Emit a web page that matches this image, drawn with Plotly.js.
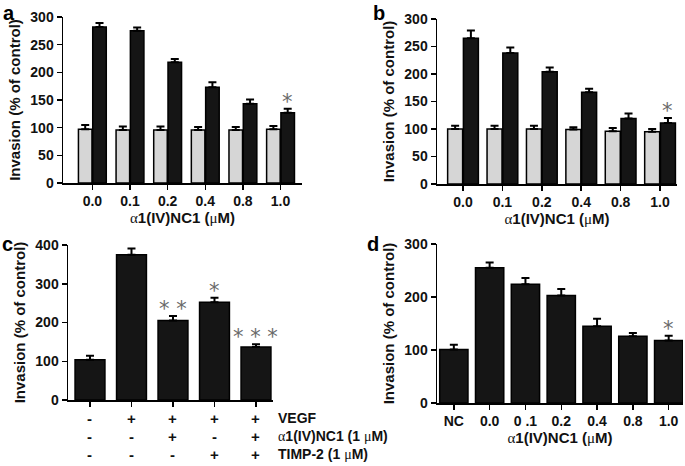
<!DOCTYPE html>
<html>
<head>
<meta charset="utf-8">
<script src="https://cdn.plot.ly/plotly-3.0.1.min.js"></script>
<style>html,body{margin:0;padding:0;background:#fff;}#chart{width:685px;height:466px;}</style>
</head>
<body>
<div id="chart"></div>
<script>
// ---- data ----
const catsAB = ['0.0','0.1','0.2','0.4','0.8','1.0'];
const aCtrl = [97, 96, 96, 96, 96, 97];
const aCtrlErr = [8, 6, 6, 5, 5, 6];
const aVegf = [282, 275, 218, 173, 143, 127];
const aVegfErr = [7, 6, 6, 9, 8, 7];
const bCtrl = [100, 100, 100, 99, 96, 95];
const bCtrlErr = [6, 6, 6, 4, 6, 5];
const bVegf = [265, 238, 204, 167, 119, 111];
const bVegfErr = [14, 10, 8, 6, 9, 9];
const cVals = [104, 375, 205, 252, 137];
const cErr = [10, 16, 12, 12, 7];
const cVegf = ['-', '+', '+', '+', '+'];
const cNc1 = ['-', '-', '+', '-', '+'];
const cTimp = ['-', '-', '-', '+', '+'];
const cRowLabels = ['VEGF', 'α1(IV)NC1 (1 μM)', 'TIMP-2 (1 μM)'];
const cStars = ['', '', '* *', '*', '* * *'];
const dCats = ['NC', '0.0', '0 .1', '0.2', '0.4', '0.8', '1.0'];
const dVals = [101, 255, 224, 203, 145, 126, 118];
const dErr = [9, 10, 12, 12, 14, 6, 9];
const abStars = ['', '', '', '', '', '*'];
const dStars = ['', '', '', '', '', '', '*'];

// ---- styles ----
const FONT = 'Liberation Sans, Arial, Helvetica, sans-serif';
const GRAY = '#d6d6d6';
const BLACK = '#151515';
const idx = n => Array.from({length: n}, (_, i) => i);
const zeros = n => new Array(n).fill(0);

function err(arr) {
  return {type: 'data', symmetric: false, array: arr, arrayminus: zeros(arr.length),
          color: '#000', thickness: 2, width: 4};
}
function pairTraces(ctrl, ctrlE, vegf, vegfE, xa, ya, w, g) {
  const x = idx(ctrl.length);
  return [
    {type: 'bar', x: x, y: ctrl, xaxis: xa, yaxis: ya, width: w, offset: -w - g/2,
     marker: {color: GRAY, line: {color: '#000', width: 1.5}}, error_y: err(ctrlE),
     hoverinfo: 'skip', showlegend: false},
    {type: 'bar', x: x, y: vegf, xaxis: xa, yaxis: ya, width: w, offset: g/2,
     marker: {color: BLACK, line: {color: '#000', width: 1.5}}, error_y: err(vegfE),
     hoverinfo: 'skip', showlegend: false}
  ];
}

const traces = [
  ...pairTraces(aCtrl, aCtrlErr, aVegf, aVegfErr, 'x', 'y', 0.36, 0.02),
  ...pairTraces(bCtrl, bCtrlErr, bVegf, bVegfErr, 'x2', 'y2', 0.38, 0.02),
  {type: 'bar', x: idx(cVals.length), y: cVals, xaxis: 'x3', yaxis: 'y3', width: 0.72,
   marker: {color: BLACK, line: {color: '#000', width: 1.5}}, error_y: err(cErr),
   hoverinfo: 'skip', showlegend: false},
  {type: 'bar', x: idx(dVals.length), y: dVals, xaxis: 'x4', yaxis: 'y4', width: 0.79,
   marker: {color: BLACK, line: {color: '#000', width: 1.5}}, error_y: err(dErr),
   hoverinfo: 'skip', showlegend: false}
];

const tickFont = {family: FONT, size: 14, color: '#111', weight: 'bold'};
const titleFont = {family: FONT, size: 15, color: '#111', weight: 'bold'};
function yax(domain, max, dtick, anchor) {
  return {domain: domain, range: [0, max], dtick: dtick, tick0: 0, anchor: anchor,
          showline: true, linecolor: '#000', linewidth: 1.5, ticks: 'outside', ticklen: 5,
          tickwidth: 1.5, tickcolor: '#000', showgrid: false, zeroline: false,
          tickfont: tickFont, automargin: false,
          title: {text: 'Invasion (% of control)', font: titleFont, standoff: 6}};
}
function xax(domain, range, labels, anchor, title) {
  return {domain: domain, range: range, anchor: anchor, tickmode: 'array',
          tickvals: idx(labels.length), ticktext: labels, showline: true, linecolor: '#000',
          linewidth: 1.5, ticks: 'outside', ticklen: 5, tickwidth: 1.5,
          tickcolor: '#000', showgrid: false, zeroline: false, tickfont: tickFont,
          automargin: false, fixedrange: true,
          title: title ? {text: title, font: titleFont, standoff: 3} : {text: ''}};
}
const SERIF = '<span style="font-family:Liberation Serif;font-weight:normal">';
const xTitle = SERIF + 'α</span>1(IV)NC1 (' + SERIF + 'μ</span>M)';

const annotations = [];
function letter(t, x, y) {
  annotations.push({text: t, x: x, y: y, xref: 'paper', yref: 'paper', xanchor: 'left',
    yanchor: 'top', showarrow: false, font: {family: FONT, size: 20, color: '#000', weight: 'bold'}});
}
letter('a', 0.002, 1.0);
letter('b', 0.542, 1.0);
letter('c', 0.0, 0.505);
letter('d', 0.533, 0.505);

function stars(list, vals, errs, xa, ya, shift) {
  list.forEach((s, i) => {
    if (!s) return;
    annotations.push({text: s, x: i + shift, y: vals[i] + errs[i], xref: xa, yref: ya,
      xanchor: 'center', yanchor: 'bottom', yshift: -7, showarrow: false,
      font: {family: 'DejaVu Sans', size: 21, color: '#6a6a6a'}});
  });
}
stars(abStars, aVegf, aVegfErr, 'x', 'y', 0.19);
stars(abStars, bVegf, bVegfErr, 'x2', 'y2', 0.2);
stars(cStars, cVals, cErr, 'x3', 'y3', 0);
stars(dStars, dVals, dErr, 'x4', 'y4', 0);

// sign table under panel c
const signRows = [cVegf, cNc1, cTimp];
const rowY = [1 - 418/466, 1 - 436/466, 1 - 454/466];
signRows.forEach((row, r) => {
  row.forEach((s, i) => {
    annotations.push({text: s, x: i, y: rowY[r], xref: 'x3', yref: 'paper', xanchor: 'center',
      yanchor: 'middle', showarrow: false, font: {family: FONT, size: 15, color: '#111', weight: 'bold'}});
  });
  const lbl = cRowLabels[r].replace('α', SERIF + 'α</span>').replace('μ', SERIF + 'μ</span>');
  annotations.push({text: lbl, x: 276/685, y: rowY[r], xref: 'paper', yref: 'paper', xanchor: 'left',
    yanchor: 'middle', showarrow: false, font: {family: FONT, size: 14, color: '#111', weight: 'bold'}});
});

const layout = {
  width: 685, height: 466, margin: {l: 0, r: 0, t: 0, b: 0},
  paper_bgcolor: '#fff', plot_bgcolor: '#fff', barmode: 'overlay', showlegend: false,
  xaxis: xax([63/685, 302/685], [-0.78, 5.57], catsAB, 'y', xTitle),
  yaxis: yax([1 - 183/466, 1 - 17/466], 300, 50, 'x'),
  xaxis2: xax([437/685, 677/685], [-0.66, 5.43], catsAB, 'y2', xTitle),
  yaxis2: yax([1 - 184/466, 1 - 19/466], 300, 50, 'x2'),
  xaxis3: xax([68/685, 273/685], [-0.53, 4.41], ['', '', '', '', ''], 'y3', ''),
  yaxis3: yax([1 - 400/466, 1 - 245/466], 400, 100, 'x3'),
  xaxis4: xax([437/685, 683/685], [-0.47, 6.4], dCats, 'y4', xTitle),
  yaxis4: yax([1 - 403/466, 1 - 244/466], 300, 100, 'x4'),
  annotations: annotations
};

Plotly.newPlot('chart', traces, layout, {staticPlot: true, displayModeBar: false});
</script>
</body>
</html>
